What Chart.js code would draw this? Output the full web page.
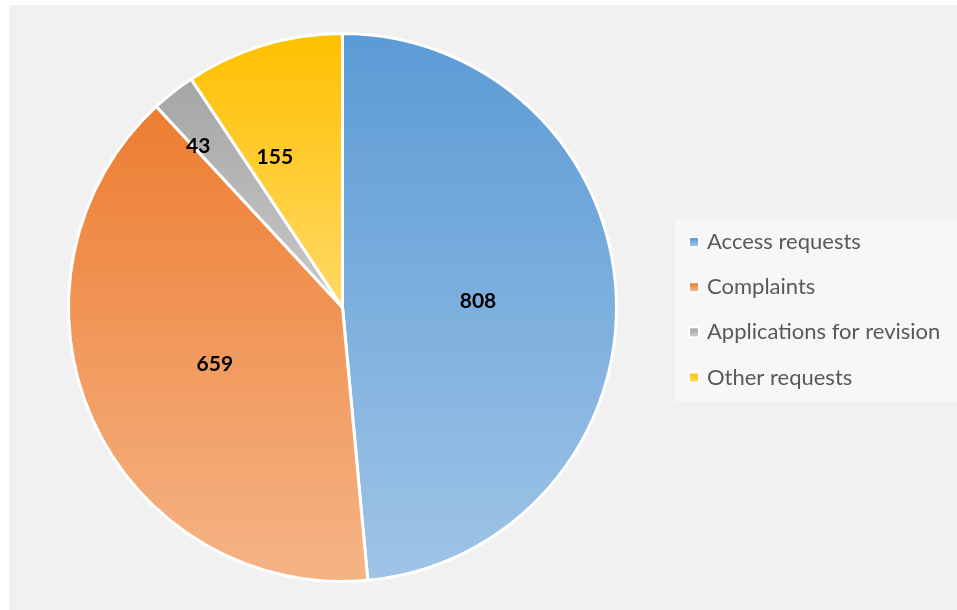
<!DOCTYPE html>
<html>
<head>
<meta charset="utf-8">
<script src="https://cdn.jsdelivr.net/npm/chart.js@4"></script>
<style>
  html, body { margin: 0; padding: 0; background: #ffffff; }
  #wrap { position: relative; width: 957px; height: 610px; }
  #panel { position: absolute; left: 9px; top: 5px; width: 948px; height: 605px; background: #f1f1f1; }
  canvas { position: absolute; left: 0; top: 0; }
</style>
</head>
<body>
<div id="wrap">
  <div id="panel"></div>
  <canvas id="c" width="957" height="610"></canvas>
</div>
<script>
const categories = ["Access requests", "Complaints", "Applications for revision", "Other requests"];
const values = [808, 659, 43, 155];
const topColors = ["#5b9bd5", "#ed7d31", "#a5a5a5", "#ffc000"];
const bottomColors = ["#9fc4e7", "#f5b486", "#cacaca", "#ffd966"];
// label placement inside each slice: radial fraction and angular fraction
const labelRadius = [0.495, 0.51, 0.79, 0.6];
const labelAngleFrac = [0.5, 0.5, 0.11, 0.275];

function sliceGradient(context) {
  const chart = context.chart;
  const i = context.dataIndex;
  const meta = chart.getDatasetMeta(0);
  const arc = meta.data[i];
  const area = chart.chartArea;
  if (!area) return topColors[i];
  let cx, cy, r, sa, ea;
  if (arc && arc.outerRadius) {
    cx = arc.x; cy = arc.y; r = arc.outerRadius; sa = arc.startAngle; ea = arc.endAngle;
  } else {
    const total = values.reduce((a, b) => a + b, 0);
    let acc = 0;
    for (let k = 0; k < i; k++) acc += values[k];
    sa = -Math.PI / 2 + acc / total * 2 * Math.PI;
    ea = sa + values[i] / total * 2 * Math.PI;
    cx = (area.left + area.right) / 2; cy = (area.top + area.bottom) / 2;
    r = 274;
  }
  const ys = [cy, cy + r * Math.sin(sa), cy + r * Math.sin(ea)];
  for (const a of [-Math.PI / 2, Math.PI / 2, 3 * Math.PI / 2]) {
    if (a >= sa && a <= ea) ys.push(cy + r * Math.sin(a));
  }
  const y0 = Math.min(...ys), y1 = Math.max(...ys);
  const g = chart.ctx.createLinearGradient(0, y0, 0, Math.max(y1, y0 + 1));
  g.addColorStop(0, topColors[i]);
  g.addColorStop(1, bottomColors[i]);
  return g;
}

const labelPlugin = {
  id: 'sliceLabels',
  afterDatasetsDraw(chart) {
    const ctx = chart.ctx;
    const meta = chart.getDatasetMeta(0);
    ctx.save();
    ctx.font = "bold 21px Lato, 'Open Sans', sans-serif";
    ctx.fillStyle = "#000000";
    ctx.textAlign = "center";
    ctx.textBaseline = "middle";
    meta.data.forEach((arc, i) => {
      const a = arc.startAngle + (arc.endAngle - arc.startAngle) * labelAngleFrac[i];
      const d = arc.outerRadius * labelRadius[i];
      ctx.fillText(String(values[i]), arc.x + d * Math.cos(a), arc.y + d * Math.sin(a));
    });
    ctx.restore();
  }
};

const legendPlugin = {
  id: 'boxLegend',
  afterDraw(chart) {
    const ctx = chart.ctx;
    ctx.save();
    ctx.fillStyle = "#f7f7f7";
    ctx.fillRect(675, 219, 282, 183);
    ctx.font = "22px Lato, 'Open Sans', sans-serif";
    ctx.textBaseline = "middle";
    ctx.textAlign = "left";
    categories.forEach((name, i) => {
      const y = 242 + i * 45.2;
      ctx.fillStyle = "#ffffff";
      ctx.fillRect(688, y - 6, 12, 12);
      const g = ctx.createLinearGradient(0, y - 4, 0, y + 4);
      g.addColorStop(0, topColors[i]);
      g.addColorStop(1, bottomColors[i]);
      ctx.fillStyle = g;
      ctx.fillRect(690, y - 4, 8, 8);
      ctx.fillStyle = "#595959";
      ctx.fillText(name, 707, y);
    });
    ctx.restore();
  }
};

new Chart(document.getElementById('c'), {
  type: 'pie',
  data: {
    labels: categories,
    datasets: [{
      data: values,
      backgroundColor: sliceGradient,
      borderColor: '#ffffff',
      borderWidth: 3
    }]
  },
  options: {
    responsive: false,
    animation: false,
    radius: 274,
    layout: { padding: { left: 40, right: 312, top: 5, bottom: 0 } },
    plugins: {
      legend: { display: false },
      tooltip: { enabled: false }
    }
  },
  plugins: [labelPlugin, legendPlugin]
});
</script>
</body>
</html>
